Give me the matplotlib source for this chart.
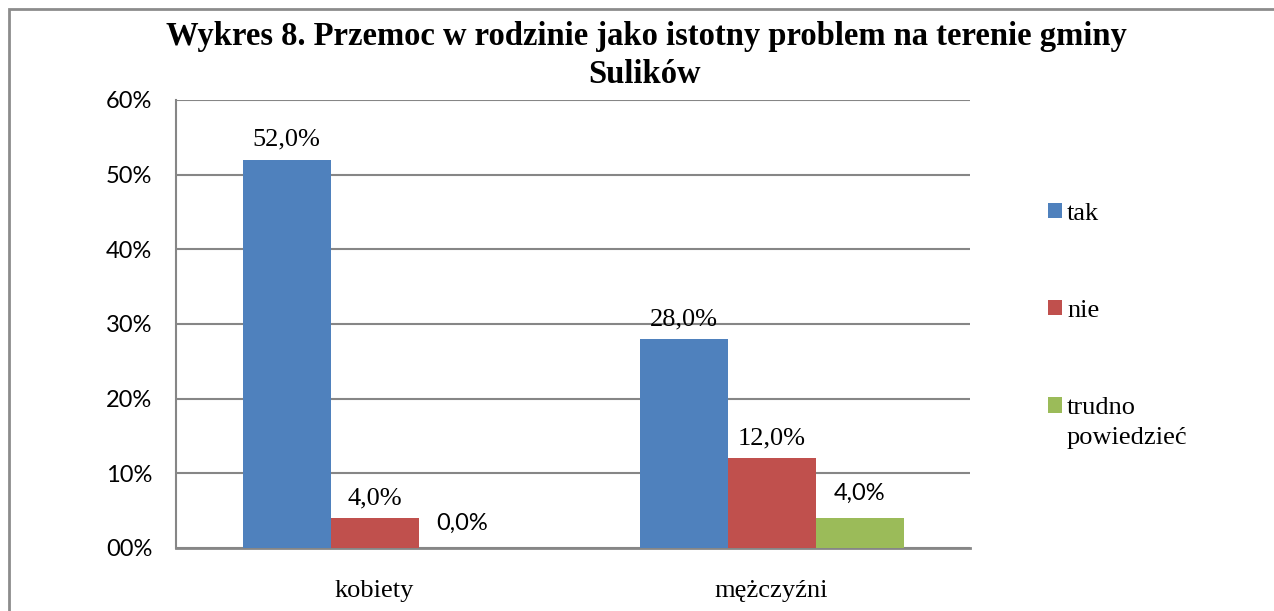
import numpy as np
import matplotlib.pyplot as plt
from matplotlib.patches import Rectangle

# data
categories = ['kobiety', 'mężczyźni']
series_names = ['tak', 'nie', 'trudno']
tak = [52.0, 28.0]
nie = [4.0, 12.0]
trudno = [0.0, 4.0]
yticks = [0, 10, 20, 30, 40, 50, 60]
ytick_labels = ['00%', '10%', '20%', '30%', '40%', '50%', '60%']

colors = ['#4F81BD', '#C0504D', '#9BBB59']
serif = 'Liberation Serif'
sans = 'Lato'

W, H = 1274, 611
fig = plt.figure(figsize=(W / 100, H / 100), dpi=100)

# outer frame (cut off at right and bottom like the original)
fig.patches.append(Rectangle((9 / W, -0.1), 1.2, 1 - 9 / H + 0.1,
                             transform=fig.transFigure, fill=False,
                             edgecolor='#8C8C8C', linewidth=2))

ax = fig.add_axes([176 / W, 1 - 548 / H, 794 / W, 448 / H])

x = np.arange(len(categories))
bw = 88 / 397
values = [tak, nie, trudno]
bars = []
for i, vals in enumerate(values):
    b = ax.bar(x + (i - 1) * bw, vals, width=bw, color=colors[i],
               label=series_names[i], zorder=3)
    bars.append(b)

# value labels (the green ones are in a sans font in the original)
for i, b in enumerate(bars):
    for rect, v in zip(b, values[i]):
        if i == 2:
            fam, fs, off = sans, 17, 13
        else:
            fam, fs, off = serif, 19, 10
        ax.annotate(f'{v:.1f}%'.replace('.', ','),
                    (rect.get_x() + rect.get_width() / 2, rect.get_height()),
                    xytext=(0, off), textcoords='offset points',
                    ha='center', va='baseline', fontsize=fs, family=fam)

ax.set_xlim(-0.5, 1.5)
ax.set_ylim(0, 60)
ax.set_yticks(yticks)
ax.set_yticklabels(ytick_labels, fontsize=17, family=sans)
ax.set_xticks(x)
ax.set_xticklabels(categories, fontsize=19, family=serif)
ax.tick_params(axis='both', length=0)
ax.tick_params(axis='y', pad=17)
ax.tick_params(axis='x', pad=23)
ax.yaxis.grid(True, color='#868686', linewidth=1.5, zorder=0)
for s in ['top', 'right']:
    ax.spines[s].set_visible(False)
ax.spines['left'].set_color('#868686')
ax.spines['bottom'].set_color('#868686')
ax.spines['left'].set_linewidth(1.5)
ax.spines['bottom'].set_linewidth(2)

leg = ax.legend(loc='upper left', bbox_to_anchor=(1048 / W, 1 - 202.5 / H),
                bbox_transform=fig.transFigure, frameon=False, borderpad=0,
                borderaxespad=0, prop={'family': serif, 'size': 19},
                handlelength=0.53, handleheight=0.53, handletextpad=0.19,
                labelspacing=2.85)
# second line of the last legend entry
ax.annotate('powiedzieć', xy=(0, 0), xycoords=leg.texts[2],
            xytext=(0, -8), textcoords='offset pixels', ha='left', va='top',
            fontsize=19, family=serif, zorder=10)

fig.text(646 / W, 1 - 45 / H,
         'Wykres 8. Przemoc w rodzinie jako istotny problem na terenie gminy',
         ha='center', va='baseline', fontsize=23.5, fontweight='bold',
         family=serif)
fig.text(645 / W, 1 - 83 / H, 'Sulików', ha='center', va='baseline',
         fontsize=23.5, fontweight='bold', family=serif)

fig.savefig('out.png', dpi=100)
